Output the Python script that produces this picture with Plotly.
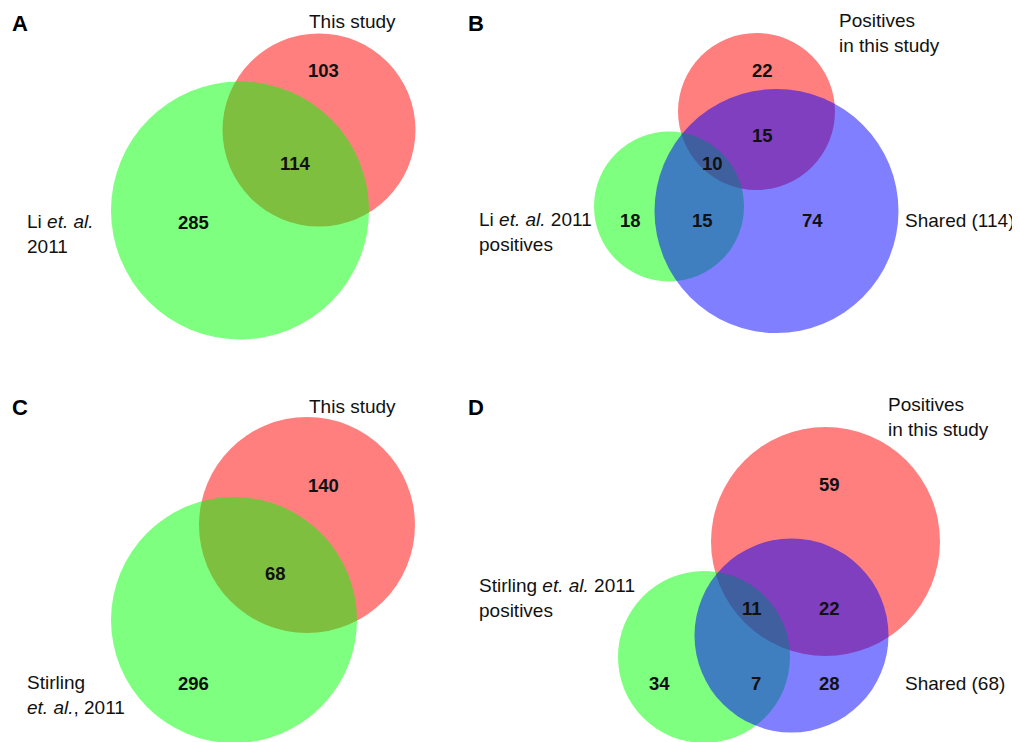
import plotly.graph_objects as go

# ---------------- data ----------------
panel_letters = ["A", "B", "C", "D"]

# Panel A: two-set Venn (This study vs Li et al. 2011)
a_set_labels = ["This study", "Li <i>et. al.</i><br>2011"]
a_counts = [103, 114, 285]            # this-study only, shared, Li only

# Panel B: three-set Venn
b_set_labels = ["Positives<br>in this study", "Li <i>et. al.</i> 2011<br>positives", "Shared (114)"]
b_counts = [22, 15, 10, 18, 15, 74]   # red only, red∩blue, all three, green only, green∩blue, blue only

# Panel C: two-set Venn (This study vs Stirling et al. 2011)
c_set_labels = ["This study", "Stirling<br><i>et. al.</i>, 2011"]
c_counts = [140, 68, 296]

# Panel D: three-set Venn
d_set_labels = ["Positives<br>in this study", "Stirling <i>et. al.</i> 2011<br>positives", "Shared (68)"]
d_counts = [59, 11, 22, 34, 7, 28]    # red only, all three, red∩blue, green only, green∩blue, blue only

# ---------------- layout geometry (page pixels) ----------------
RED, GREEN, BLUE = "#FF0000", "#00FF00", "#0000FF"
circles = [
    # panel A
    (RED, 319, 130, 96.5), (GREEN, 240, 210.5, 129),
    # panel B
    (RED, 756.5, 111.5, 78.5), (GREEN, 669, 206.5, 75), (BLUE, 776.5, 211, 122),
    # panel C
    (RED, 307, 525, 108), (GREEN, 234, 620, 123),
    # panel D
    (RED, 825.5, 541.5, 114.5), (GREEN, 704, 657, 86), (BLUE, 791.5, 635.5, 97),
]
letter_pos = [(20, 23), (476, 23), (20, 407), (476, 407)]
a_count_pos = [(323, 70), (295, 163), (193, 222)]
b_count_pos = [(762, 70), (762, 135), (712, 163), (630, 220), (702, 220), (812, 220)]
c_count_pos = [(323, 485), (275, 573), (193, 683)]
d_count_pos = [(829, 484), (752, 608), (829, 608), (659, 683), (756, 683), (829, 683)]
a_label_pos = [(307, 21), (25, 234)]
b_label_pos = [(837, 33), (477, 232), (903, 220)]
c_label_pos = [(307, 406), (25, 695)]
d_label_pos = [(886, 417), (477, 598), (903, 683)]

FONT = "Liberation Sans, Arial, Helvetica, sans-serif"
LABEL_SIZE = 19
NUM_SIZE = 18.5
PAGE_OFFSET = 8   # default body margin of the html page

fig = go.Figure()
fig.add_trace(go.Scatter(x=[0, 1020], y=[0, 742], mode="markers",
                         marker=dict(opacity=0), hoverinfo="skip", showlegend=False))

for color, cx, cy, r in circles:
    fig.add_shape(type="circle", xref="x", yref="y",
                  x0=cx - r, x1=cx + r, y0=cy - r, y1=cy + r,
                  fillcolor=color, opacity=0.5, line=dict(width=0), layer="above")

annotations = []
for letter, (x, y) in zip(panel_letters, letter_pos):
    annotations.append(dict(x=x, y=y, text=f"<b>{letter}</b>", xanchor="center", yanchor="middle",
                            font=dict(size=22, family=FONT, color="#000")))

for counts, positions in [(a_counts, a_count_pos), (b_counts, b_count_pos),
                          (c_counts, c_count_pos), (d_counts, d_count_pos)]:
    for n, (x, y) in zip(counts, positions):
        annotations.append(dict(x=x, y=y, text=f"<b>{n}</b>", xanchor="center", yanchor="middle",
                                font=dict(size=NUM_SIZE, family=FONT, color="#111")))

for labels, positions in [(a_set_labels, a_label_pos), (b_set_labels, b_label_pos),
                          (c_set_labels, c_label_pos), (d_set_labels, d_label_pos)]:
    for lab, (x, y) in zip(labels, positions):
        annotations.append(dict(x=x, y=y, text=lab, xanchor="left", yanchor="middle", align="left",
                                font=dict(size=LABEL_SIZE, family=FONT, color="#111")))

for a in annotations:
    a.update(xref="x", yref="y", showarrow=False)

fig.update_layout(
    width=1020 - PAGE_OFFSET, height=742 - PAGE_OFFSET,
    margin=dict(l=0, r=0, t=0, b=0),
    paper_bgcolor="white", plot_bgcolor="white",
    xaxis=dict(range=[PAGE_OFFSET, 1020], visible=False, fixedrange=True),
    yaxis=dict(range=[742, PAGE_OFFSET], visible=False, fixedrange=True),
    annotations=annotations,
    showlegend=False,
)

fig.write_html("out.html", config={"displayModeBar": False})
